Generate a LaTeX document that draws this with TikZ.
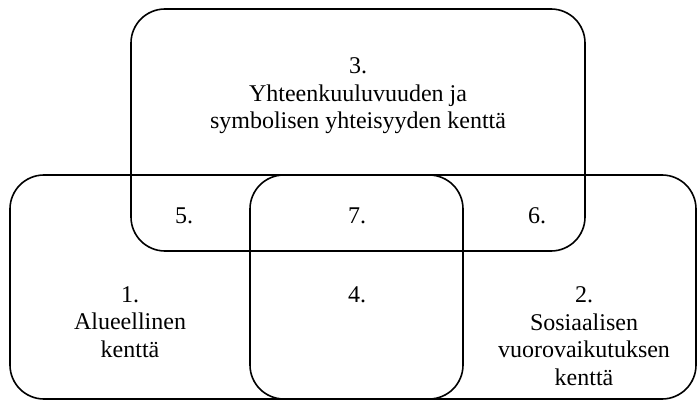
\documentclass[tikz,border=0pt]{standalone}
\usepackage{fontspec}
\setmainfont{Liberation Serif}
\usetikzlibrary{positioning}

\tikzset{field/.style={draw, line width=1.6pt, rounded corners=34pt, inner sep=0pt},
         lbl/.style={align=center, inner sep=0pt, font=\fontsize{24}{27.5}\selectfont}}

\begin{document}
\begin{tikzpicture}[x=1pt, y=1pt]
\useasboundingbox (0,0) rectangle (697,400);
\node (f3) [field, minimum width=454pt, minimum height=242pt] at (358,270) {};
\node (f1) [field, minimum width=453pt, minimum height=224pt] at (236.5,113) {};
\node (f2) [field, minimum width=446pt, minimum height=224pt] at (473,113) {};

\node (t3) [lbl] at (358,304) {3.\\Yhteenkuuluvuuden ja\\symbolisen yhteisyyden kenttä};
\node (t1) [lbl] at (130,78) {1.\\Alueellinen\\kenttä};
\node (t2) [lbl] at (584,64) {2.\\Sosiaalisen\\vuorovaikutuksen\\kenttä};
\node (a5) [lbl] at (184,184) {5.};
\node (a7) [lbl] at (357,184) {7.};
\node (a6) [lbl] at (537,184) {6.};
\node (a4) [lbl] at (357,105) {4.};
\end{tikzpicture}
\end{document}
